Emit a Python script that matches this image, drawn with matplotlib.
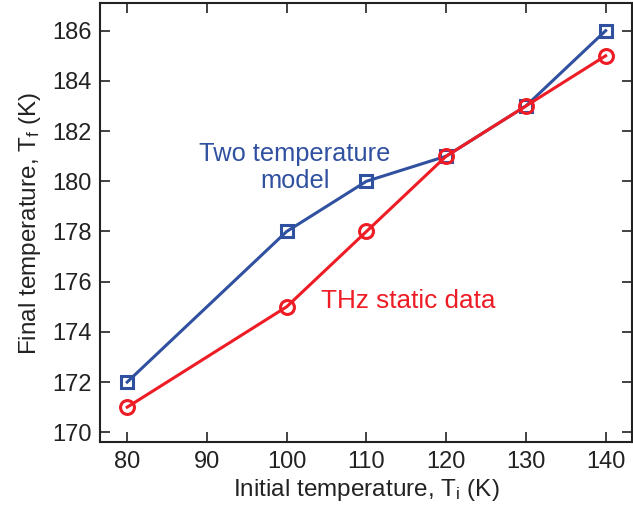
import matplotlib
matplotlib.use("Agg")
import matplotlib.pyplot as plt

plt.rcParams['font.family'] = ['Liberation Sans', 'DejaVu Sans']
plt.rcParams['mathtext.default'] = 'regular'

x_init = [80, 100, 110, 120, 130, 140]
ttm_final = [172, 178, 180, 181, 183, 186]
thz_final = [171, 175, 178, 181, 183, 185]
xticks = [80, 90, 100, 110, 120, 130, 140]
yticks = [170, 172, 174, 176, 178, 180, 182, 184, 186]

blue = '#3050A0'
red = '#EE1C25'

fig = plt.figure(figsize=(6.33, 5.09), dpi=100)
ax = fig.add_axes([0.1586, 0.131, 0.8398, 0.8625])

ax.plot(x_init, ttm_final, color=blue, lw=2.2, marker='s', ms=8,
        mfc='none', mec=blue, mew=2.2, zorder=3)
ax.plot(x_init, thz_final, color=red, lw=2.2, marker='o', ms=10,
        mfc='none', mec=red, mew=2.2, zorder=3)

ax.set_xlim(76.64, 143.3)
ax.set_ylim(169.6, 187.09)
ax.set_xticks(xticks)
ax.set_yticks(yticks)
ax.tick_params(direction='in', length=7, width=1.2, labelsize=17,
               top=True, right=True, pad=6, colors='#222222')
for s in ax.spines.values():
    s.set_linewidth(1.5)
    s.set_color('#222222')

ax.set_xlabel('Initial temperature, T$_{i}$ (K)', fontsize=17.5, labelpad=3, color='#222222')
ax.set_ylabel('Final temperature, T$_{f}$ (K)', fontsize=17.5, labelpad=7, color='#222222')

ax.text(101.0, 180.55, 'Two temperature\nmodel', color=blue, fontsize=18.3,
        ha='center', va='center', linespacing=1.15)
ax.text(104.3, 175.25, 'THz static data', color=red, fontsize=18.8,
        ha='left', va='center')

fig.savefig('out.png', dpi=100)
